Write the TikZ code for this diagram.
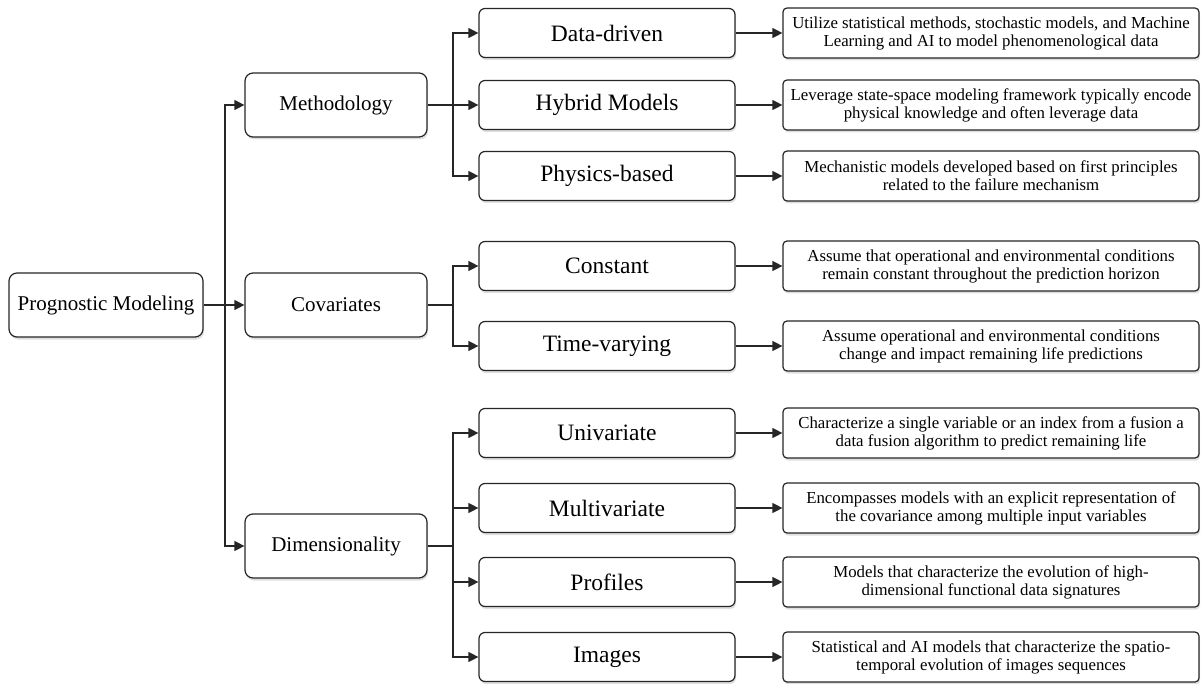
\documentclass[tikz,border=0pt]{standalone}
\usepackage{fontspec}
\setmainfont{Liberation Serif}
\usetikzlibrary{arrows.meta,shadows}
\begin{document}
\begin{tikzpicture}[x=1pt,y=-1pt,
  base/.style={draw=black!85, line width=1.2pt, fill=white, inner sep=0pt, align=center,
    drop shadow={opacity=0.25,shadow xshift=1pt,shadow yshift=-2.5pt}},
  topbox/.style={base, rounded corners=8pt, minimum width=194pt, minimum height=64pt, font=\fontsize{21}{25}\selectfont},
  catbox/.style={base, rounded corners=8pt, minimum width=182pt, minimum height=64pt, font=\fontsize{21}{25}\selectfont},
  subbox/.style={base, rounded corners=6pt, minimum width=256pt, minimum height=49pt, font=\fontsize{23.5}{27}\selectfont},
  descbox/.style={base, rounded corners=4pt, minimum width=416pt, minimum height=50pt, font=\fontsize{16.8}{18}\selectfont},
  conn/.style={line width=1.2pt, draw=black!85},
  arr/.style={conn, -{Triangle[length=10pt,width=10pt]}}
]
\useasboundingbox (0,0) rectangle (1201,684);

% root
\node[topbox] (root) at (106,305) {Prognostic Modeling};

% categories
\node[catbox] (meth) at (336,105) {Methodology};
\node[catbox] (cov) at (336,305) {Covariates};
\node[catbox] (dim) at (336,546) {Dimensionality};

% sub-categories
\node[subbox] (dd) at (607,33) {Data-driven};
\node[subbox] (hyb) at (607,105) {Hybrid Models};
\node[subbox] (phy) at (607,176) {Physics-based};
\node[subbox] (con) at (607,266) {Constant};
\node[subbox] (tv) at (607,346) {Time-varying};
\node[subbox] (uni) at (607,433) {Univariate};
\node[subbox] (mul) at (607,508) {Multivariate};
\node[subbox] (pro) at (607,582) {Profiles};
\node[subbox] (img) at (607,657) {Images};

% descriptions
\node[descbox] (ddD) at (991,33) {Utilize statistical methods, stochastic models, and Machine\\Learning and AI to model phenomenological data};
\node[descbox] (hybD) at (991,105) {Leverage state-space modeling framework typically encode\\physical knowledge and often leverage data};
\node[descbox] (phyD) at (991,176) {Mechanistic models developed based on first principles\\related to the failure mechanism};
\node[descbox] (conD) at (991,266) {Assume that operational and environmental conditions\\remain constant throughout the prediction horizon};
\node[descbox] (tvD) at (991,346) {Assume operational and environmental conditions\\change and impact remaining life predictions};
\node[descbox] (uniD) at (991,433) {Characterize a single variable or an index from a fusion a\\data fusion algorithm to predict remaining life};
\node[descbox] (mulD) at (991,508) {Encompasses models with an explicit representation of\\the covariance among multiple input variables};
\node[descbox] (proD) at (991,582) {Models that characterize the evolution of high-\\dimensional functional data signatures};
\node[descbox] (imgD) at (991,657) {Statistical and AI models that characterize the spatio-\\temporal evolution of images sequences};

% junction points
\coordinate (t0) at (225,305);
\coordinate (tm) at (453,105);
\coordinate (tc) at (453,305);
\coordinate (td) at (453,546);

% root to categories
\draw[arr] (root) -- (cov);
\draw[arr] (t0) |- (meth);
\draw[arr] (t0) |- (dim);

% categories to sub-categories
\draw[conn] (meth) -- (tm);
\draw[arr] (tm) |- (dd);
\draw[arr] (tm) -- (hyb);
\draw[arr] (tm) |- (phy);

\draw[conn] (cov) -- (tc);
\draw[arr] (tc) |- (con);
\draw[arr] (tc) |- (tv);

\draw[conn] (dim) -- (td);
\draw[arr] (td) |- (uni);
\draw[arr] (td) |- (mul);
\draw[arr] (td) |- (pro);
\draw[arr] (td) |- (img);

% sub-categories to descriptions
\foreach \a in {dd,hyb,phy,con,tv,uni,mul,pro,img}
  \draw[arr] (\a) -- (\a D);
\end{tikzpicture}
\end{document}
